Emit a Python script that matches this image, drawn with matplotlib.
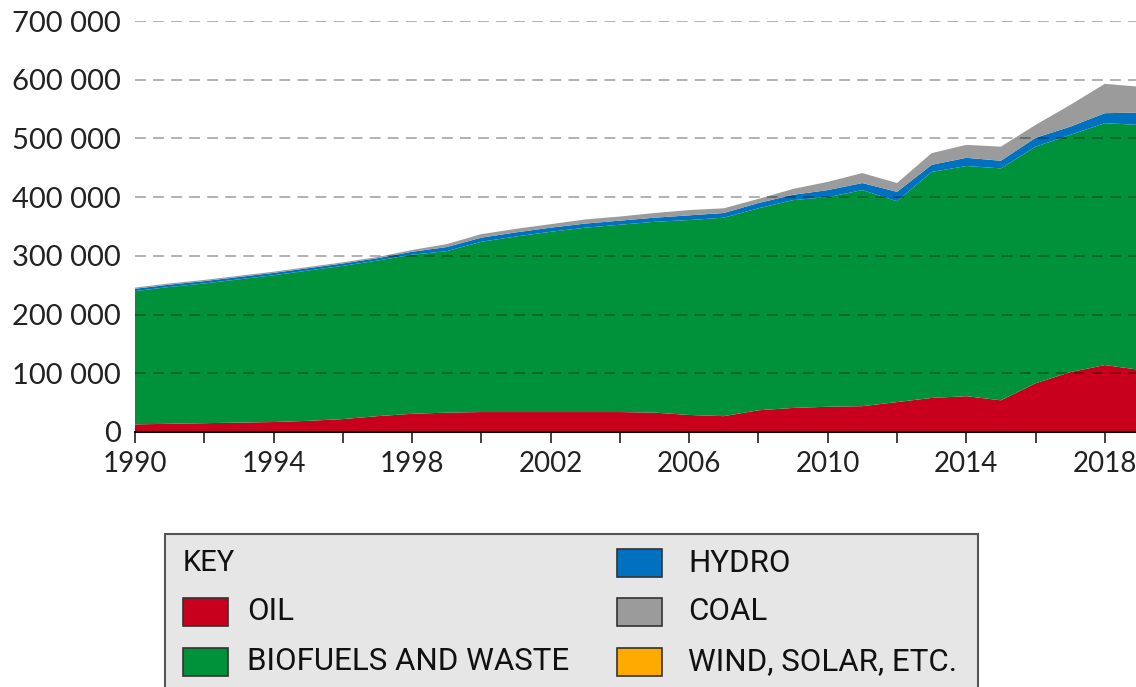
import matplotlib

matplotlib.use("Agg")
import matplotlib.pyplot as plt
from matplotlib.patches import Rectangle
from matplotlib.ticker import FuncFormatter
import numpy as np

years = list(range(1990, 2020))

# values in thousands
oil = [13, 14, 15, 16, 17, 19, 22, 27, 31, 33, 34, 34, 34, 34, 34,
       33, 29, 27, 37, 41, 43, 44, 51, 58, 61, 54, 83, 102, 114, 106]
biofuels_top = [240, 247, 253, 260, 267, 275, 283, 292, 302, 308, 324, 333, 341, 348, 353,
                358, 361, 365, 381, 395, 400, 412, 393, 443, 453, 449, 486, 506, 526, 523]
hydro = [4, 4, 4, 4, 4, 4, 4, 4, 5, 7, 7, 7, 7, 7, 7,
         7, 8, 8, 9, 9, 12, 12, 16, 12, 14, 13, 15, 14, 17, 21]
coal = [2, 2, 2, 2, 2, 2, 2, 2, 3, 5, 6, 6, 6, 7, 7,
        8, 9, 8, 7, 10, 14, 17, 15, 20, 22, 24, 22, 37, 50, 44]
wind_solar = [0] * 30  # too thin to see on the chart

labels = ["OIL", "BIOFUELS AND WASTE", "HYDRO", "COAL", "WIND, SOLAR, ETC."]
colors = ["#c8001e", "#00923a", "#0070c0", "#9b9b9b", "#ffaa00"]

x = np.array(years)
oil_v = np.array(oil) * 1000
bio_v = (np.array(biofuels_top) - np.array(oil)) * 1000
series = [oil_v, bio_v, np.array(hydro) * 1000, np.array(coal) * 1000,
          np.array(wind_solar) * 1000]

fig = plt.figure(figsize=(11.36, 6.87), dpi=100)
ax = fig.add_axes([135 / 1136, 1 - 432 / 687, 1 - 135 / 1136, (432 - 21) / 687])

ax.stackplot(x, *series, colors=colors, linewidth=0)

ax.set_xlim(1990, 2018.9)
ax.set_ylim(0, 700000)
ax.set_yticks(range(0, 700001, 100000))
ax.yaxis.set_major_formatter(FuncFormatter(lambda v, p: f"{int(v):,}".replace(",", " ")))
ax.set_xticks(range(1990, 2019, 2))
ax.set_xticklabels([str(y) if (y - 1990) % 4 == 0 else "" for y in range(1990, 2019, 2)])

for v in range(100000, 700001, 100000):
    ax.axhline(v, color="black", alpha=0.33, linestyle=(0, (6, 4)), linewidth=1.3, zorder=3)

for s in ["left", "right", "top"]:
    ax.spines[s].set_visible(False)
ax.spines["bottom"].set_linewidth(1.5)
ax.spines["bottom"].set_zorder(4)

ax.tick_params(axis="y", length=0, pad=10, labelsize=21, labelcolor="#222222")
ax.tick_params(axis="x", length=8, width=1.3, color="#333333", pad=6,
               labelsize=20, labelcolor="#222222")
for lab in ax.get_xticklabels() + ax.get_yticklabels():
    lab.set_fontfamily(["Lato", "DejaVu Sans"])

# key box
W, H = 1136, 687


def fx(px):
    return px / W


def fy(py):
    return 1 - py / H


fig.patches.append(Rectangle((fx(165), fy(690)), fx(978) - fx(165), fy(534) - fy(690),
                             transform=fig.transFigure, facecolor="#e6e6e6",
                             edgecolor="#555555", linewidth=1.5))
key_font = ["Roboto", "DejaVu Sans"]
fig.text(fx(183), fy(563), "KEY", fontsize=21, fontfamily=key_font,
         va="center", ha="left", color="#111111")

slots = [(183, 612, 247), (183, 662, 247), (617, 563, 688), (617, 612, 688), (617, 662, 688)]
for (px, py, tx), lab, col in zip(slots, labels, colors):
    fig.patches.append(Rectangle((fx(px), fy(py + 14)), fx(45), fy(0) - fy(28),
                                 transform=fig.transFigure, facecolor=col,
                                 edgecolor="#333333", linewidth=1.2))
    fig.text(fx(tx), fy(py), lab, fontsize=22.5, fontfamily=key_font,
             va="center", ha="left", color="#111111")

fig.savefig("out.png", dpi=100)
